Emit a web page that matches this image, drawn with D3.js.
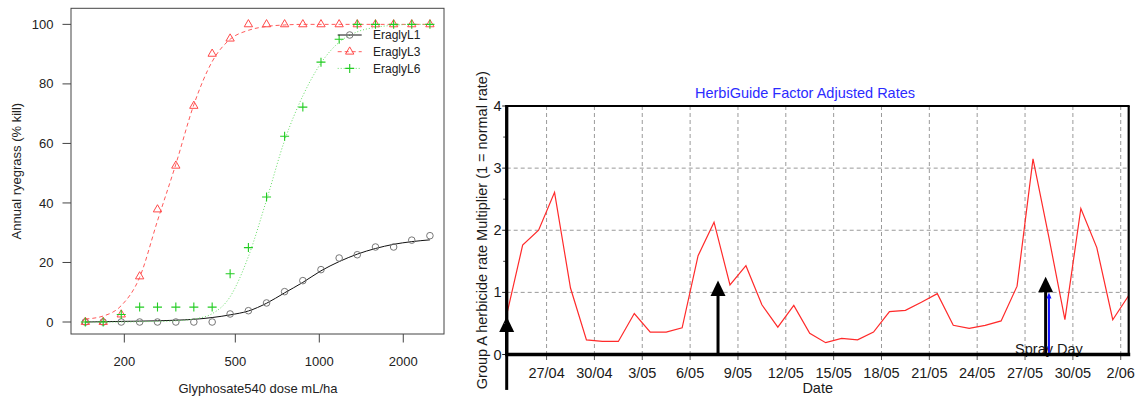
<!DOCTYPE html>
<html>
<head>
<meta charset="utf-8">
<script src="https://cdn.jsdelivr.net/npm/d3@7"></script>
<style>
  html, body { margin: 0; padding: 0; background: #fff; }
  svg { display: block; font-family: "Liberation Sans", Arial, sans-serif; }
</style>
</head>
<body>
<svg id="chart" width="1136" height="398"></svg>
<script>
// --- dose response data (left panel) ---
const seriesNames = ["EraglyL1", "EraglyL3", "EraglyL6"];
const doses = [145, 168, 195, 227, 263, 306, 355, 413, 479, 557, 647, 751, 873, 1014, 1178, 1368, 1590, 1847, 2145, 2492];
const killL1 = [0, 0, 0, 0, 0, 0, 0, 0, 2.7, 3.8, 6.4, 10.2, 13.9, 17.6, 21.5, 22.6, 25.2, 25.2, 27.5, 29.0];
const killL3 = [0, 0, 2.5, 15.3, 37.8, 52.5, 72.6, 90.1, 95.2, 100, 100, 100, 100, 100, 100, 100, 100, 100, 100, 100];
const killL6 = [0, 0, 2.5, 5, 5, 5, 5, 5, 16.2, 25, 42, 62.4, 72.2, 87.3, 95, 100, 100, 100, 100, 100];
// fitted curves at the same doses
const fitL1 = [0, 0.1, 0.2, 0.3, 0.4, 0.6, 0.9, 1.5, 2.4, 3.7, 6.3, 9.8, 13.3, 17.2, 20.3, 22.8, 24.7, 26.1, 27.0, 27.6];
const fitL3 = [1, 2, 5.5, 15, 34, 53, 73, 87.5, 95, 98, 99.3, 99.8, 100, 100, 100, 100, 100, 100, 100, 100];
const fitL6 = [0, 0, 0, 0.1, 0.2, 0.4, 1.0, 2.8, 8.5, 22, 41, 61, 76, 87, 94, 97.5, 99, 99.7, 100, 100];
const doseTicks = [200, 500, 1000, 2000];
const killTicks = [0, 20, 40, 60, 80, 100];

// --- HerbiGuide rate data (right panel) ---
const rateDays = ["24/04", "25/04", "26/04", "27/04", "28/04", "29/04", "30/04", "01/05", "02/05", "03/05",
  "04/05", "05/05", "06/05", "07/05", "08/05", "09/05", "10/05", "11/05", "12/05", "13/05",
  "14/05", "15/05", "16/05", "17/05", "18/05", "19/05", "20/05", "21/05", "22/05", "23/05",
  "24/05", "25/05", "26/05", "27/05", "28/05", "29/05", "30/05", "31/05", "01/06", "02/06"];
const rateValues = [0.64, 1.76, 2.0, 2.61, 1.07, 0.235, 0.21, 0.21, 0.66, 0.36,
  0.36, 0.43, 1.59, 2.13, 1.12, 1.43, 0.80, 0.44, 0.79, 0.34,
  0.19, 0.26, 0.235, 0.36, 0.69, 0.71, 0.84, 0.98, 0.47, 0.42,
  0.47, 0.54, 1.10, 3.15, 1.88, 0.56, 2.35, 1.72, 0.56, 0.95];
const gridDays = ["27/04", "30/04", "3/05", "6/05", "9/05", "12/05", "15/05", "18/05", "21/05", "24/05", "27/05", "30/05", "2/06"];
const rateTicks = [0, 1, 2, 3, 4];
const rateMinorTicks = [0.5, 1.5, 2.5, 3.5];
const eventArrows = [
  { at: "24/04 12", tip: 0.61, base: -0.57 },
  { at: "07/05 18", tip: 1.19, base: 0 },
  { at: "28/05 07", tip: 1.25, base: 0 },
];
const sprayDay = { at: "28/05 12", tip: 1.0, label: "Spray Day" };

const svg = d3.select("#chart");
svg.append("rect").attr("width", 1136).attr("height", 398).attr("fill", "#fff");

// ---------------------------------------------------------------
// left panel: dose response
function drawDoseResponse() {
  const box = { left: 71, right: 444, top: 8.3, bottom: 334 };
  const x = d3.scaleLog().domain([128.8, 2799]).range([box.left, box.right]);
  const y = d3.scaleLinear().domain([-4.03, 105.4]).range([box.bottom, box.top]);
  const g = svg.append("g").attr("font-size", 13).attr("fill", "#222");

  g.append("rect")
    .attr("x", box.left).attr("y", box.top)
    .attr("width", box.right - box.left).attr("height", box.bottom - box.top)
    .attr("fill", "none").attr("stroke", "#444").attr("stroke-width", 1);

  // axes (ticks outside the box)
  g.selectAll(".xt").data(doseTicks).enter().append("line")
    .attr("x1", (d) => x(d)).attr("x2", (d) => x(d))
    .attr("y1", box.bottom).attr("y2", box.bottom + 8.5)
    .attr("stroke", "#444");
  g.selectAll(".xl").data(doseTicks).enter().append("text")
    .attr("x", (d) => x(d)).attr("y", 365.7)
    .attr("text-anchor", "middle").text((d) => d);
  g.selectAll(".yt").data(killTicks).enter().append("line")
    .attr("x1", box.left - 8.5).attr("x2", box.left)
    .attr("y1", (d) => y(d)).attr("y2", (d) => y(d))
    .attr("stroke", "#444");
  g.selectAll(".yl").data(killTicks).enter().append("text")
    .attr("x", 53.5).attr("y", (d) => y(d)).attr("dy", "0.35em")
    .attr("text-anchor", "end").text((d) => d);

  g.append("text").attr("x", 258).attr("y", 392.5).attr("text-anchor", "middle")
    .text("Glyphosate540 dose mL/ha");
  g.append("text").attr("transform", `translate(20.5,${(box.top + box.bottom) / 2}) rotate(-90)`)
    .attr("text-anchor", "middle").text("Annual ryegrass (% kill)");

  const series = [
    { name: seriesNames[0], pts: killL1, fit: fitL1, line: "#111", dash: null, mark: "circle", col: "#777" },
    { name: seriesNames[1], pts: killL3, fit: fitL3, line: "#ff5a5a", dash: "4,3", mark: "tri", col: "#ff4a4a" },
    { name: seriesNames[2], pts: killL6, fit: fitL6, line: "#66dd66", dash: "1,2", mark: "plus", col: "#22cc22" },
  ];

  const line = d3.line()
    .x((d) => x(d[0])).y((d) => y(d[1]))
    .curve(d3.curveMonotoneX);

  const marker = (sel, s) => {
    if (s.mark === "circle") {
      sel.append("circle").attr("r", 3.3).attr("fill", "none")
        .attr("stroke", s.col).attr("stroke-width", 1);
    } else if (s.mark === "tri") {
      sel.append("path").attr("d", d3.symbol(d3.symbolTriangle, 30)())
        .attr("fill", "none").attr("stroke", s.col).attr("stroke-width", 1);
    } else {
      sel.append("path").attr("d", "M-4.5,0H4.5M0,-4.5V4.5")
        .attr("stroke", s.col).attr("stroke-width", 1.1);
    }
  };

  series.forEach((s) => {
    g.append("path")
      .datum(doses.map((d, i) => [d, s.fit[i]]))
      .attr("d", line)
      .attr("fill", "none").attr("stroke", s.line).attr("stroke-width", 1)
      .attr("stroke-dasharray", s.dash);
    g.selectAll(null).data(doses.map((d, i) => [d, s.pts[i]])).enter()
      .append("g")
      .attr("transform", (d) => `translate(${x(d[0])},${y(d[1])})`)
      .each(function () { marker(d3.select(this), s); });
  });

  // legend
  const leg = g.append("g").attr("font-size", 12);
  series.forEach((s, i) => {
    const ly = 35 + i * 16.7;
    leg.append("line").attr("x1", 337.7).attr("x2", 361.7).attr("y1", ly).attr("y2", ly)
      .attr("stroke", s.line).attr("stroke-dasharray", s.dash);
    marker(leg.append("g").attr("transform", `translate(349.7,${ly})`), s);
    leg.append("text").attr("x", 373).attr("y", ly).attr("dy", "0.36em").text(s.name);
  });
}

// ---------------------------------------------------------------
// right panel: HerbiGuide factor adjusted rates
function drawRates() {
  const parseDay = (s) => d3.timeParse("%d/%m/%Y")(`${s}/2010`);
  const parseHour = (s) => d3.timeParse("%d/%m/%Y %H")(s.replace(" ", "/2010 "));
  const left = 506.7, right = 1128.7;
  const x = d3.scaleTime()
    .domain([parseHour("24/04 12"), parseHour("02/06 12")])
    .range([left, right]);
  const y = d3.scaleLinear().domain([0, 4]).range([354.5, 106]);
  const g = svg.append("g").attr("font-size", 14.5).attr("fill", "#1a1a1a");

  // grid
  const grid = g.append("g").attr("stroke", "#9a9a9a").attr("stroke-dasharray", "4,3").attr("stroke-width", 1);
  grid.selectAll(null).data(gridDays).enter().append("line")
    .attr("x1", (d) => x(parseDay(d))).attr("x2", (d) => x(parseDay(d)))
    .attr("y1", y(4)).attr("y2", y(0));
  grid.selectAll(null).data([1, 2, 3]).enter().append("line")
    .attr("x1", left).attr("x2", right)
    .attr("y1", (d) => y(d)).attr("y2", (d) => y(d));

  // rate line (values sit at midday)
  const pts = rateDays.map((d, i) => [d3.timeHour.offset(parseDay(d), 12), rateValues[i]]);
  g.append("path").datum(pts)
    .attr("d", d3.line().x((d) => x(d[0])).y((d) => y(d[1])))
    .attr("fill", "none").attr("stroke", "#ff2a2a").attr("stroke-width", 1.2);

  // event arrows
  eventArrows.forEach((a) => {
    const ax = x(parseHour(a.at));
    const tip = y(a.tip);
    g.append("line").attr("x1", ax).attr("x2", ax).attr("y1", y(a.base)).attr("y2", tip + 10)
      .attr("stroke", "#000").attr("stroke-width", 3);
    g.append("path").attr("d", `M${ax},${tip}L${ax + 7.5},${tip + 15.5}L${ax - 7.5},${tip + 15.5}Z`)
      .attr("fill", "#000");
  });

  // spray day
  const sx = x(parseHour(sprayDay.at));
  g.append("text").attr("x", sx).attr("y", 353.5).attr("text-anchor", "middle").text(sprayDay.label);
  g.append("line").attr("x1", sx).attr("x2", sx).attr("y1", y(0)).attr("y2", y(sprayDay.tip) + 4)
    .attr("stroke", "#1010ff").attr("stroke-width", 2);
  g.append("path")
    .attr("d", `M${sx},${y(sprayDay.tip)}L${sx + 2.5},${y(sprayDay.tip) + 6}L${sx - 2.5},${y(sprayDay.tip) + 6}Z`)
    .attr("fill", "#1010ff");

  // ticks
  g.selectAll(null).data(gridDays).enter().append("line")
    .attr("x1", (d) => x(parseDay(d))).attr("x2", (d) => x(parseDay(d)))
    .attr("y1", y(0)).attr("y2", y(0) + 5.5)
    .attr("stroke", "#555");
  g.selectAll(null).data(gridDays).enter().append("text")
    .attr("x", (d) => x(parseDay(d))).attr("y", 377.5)
    .attr("text-anchor", "middle").text((d) => d);
  g.selectAll(null).data(rateTicks).enter().append("line")
    .attr("x1", left - 4.5).attr("x2", left)
    .attr("y1", (d) => y(d)).attr("y2", (d) => y(d)).attr("stroke", "#222");
  g.selectAll(null).data(rateMinorTicks).enter().append("line")
    .attr("x1", left - 3.5).attr("x2", left)
    .attr("y1", (d) => y(d)).attr("y2", (d) => y(d)).attr("stroke", "#444");
  g.selectAll(null).data(rateTicks).enter().append("text")
    .attr("x", 501.5).attr("y", (d) => y(d)).attr("dy", "0.35em")
    .attr("text-anchor", "end").text((d) => d);

  // frame: heavy left/bottom axes, thin top/right
  g.append("line").attr("x1", left).attr("x2", right + 1).attr("y1", y(4)).attr("y2", y(4))
    .attr("stroke", "#000").attr("stroke-width", 2);
  g.append("line").attr("x1", right).attr("x2", right).attr("y1", y(4)).attr("y2", y(0))
    .attr("stroke", "#000").attr("stroke-width", 2.2);
  g.append("line").attr("x1", left).attr("x2", left).attr("y1", y(4) - 1).attr("y2", y(0))
    .attr("stroke", "#000").attr("stroke-width", 3.3);
  g.append("line").attr("x1", left - 1.6).attr("x2", right + 1.5).attr("y1", y(0)).attr("y2", y(0))
    .attr("stroke", "#000").attr("stroke-width", 3.5);

  // labels
  g.append("text").attr("x", 805).attr("y", 98).attr("text-anchor", "middle")
    .attr("fill", "#2b2bff").text("HerbiGuide Factor Adjusted Rates");
  g.append("text").attr("x", (left + right) / 2).attr("y", 392.5).attr("text-anchor", "middle").text("Date");
  g.append("text").attr("transform", `translate(486.5,${(y(0) + y(4)) / 2}) rotate(-90)`)
    .attr("text-anchor", "middle").text("Group A herbicide rate Multiplier (1 = normal rate)");
}

drawDoseResponse();
drawRates();
</script>
</body>
</html>
